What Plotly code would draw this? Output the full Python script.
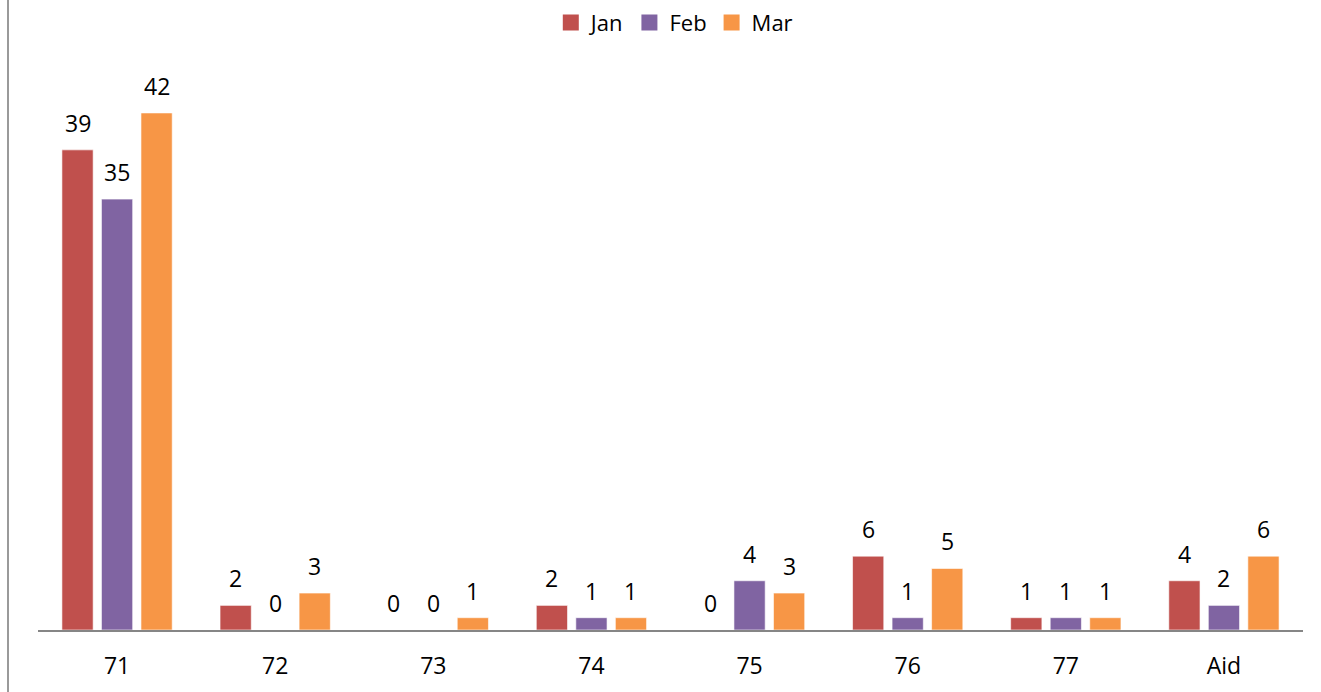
import plotly.graph_objects as go

categories = ["71", "72", "73", "74", "75", "76", "77", "Aid"]
series_names = ["Jan", "Feb", "Mar"]
jan = [39, 2, 0, 2, 0, 6, 1, 4]
feb = [35, 0, 0, 1, 4, 1, 1, 2]
mar = [42, 3, 1, 1, 3, 5, 1, 6]
colors = ["#C0504D", "#8064A2", "#F79646"]

values = [jan, feb, mar]
FONT = "Open Sans"

fig = go.Figure()
for name, vals, col in zip(series_names, values, colors):
    fig.add_trace(go.Bar(
        name=name, x=categories, y=vals, showlegend=False,
        marker=dict(color=col, line=dict(color="rgba(255,255,255,0.6)", width=1)),
    ))
# legend entries with square swatches
for name, col in zip(series_names, colors):
    fig.add_trace(go.Scatter(
        name=name, x=[None], y=[None], mode="markers",
        marker=dict(symbol="square", size=16, color=col),
    ))

# data labels (x given as category index on the category axis)
annotations = []
for k, vals in enumerate(values):
    for i, v in enumerate(vals):
        annotations.append(dict(
            x=i, y=v, xref="x", yref="y", text=str(v), showarrow=False,
            xshift=(k - 1) * 39.5, yanchor="bottom", yshift=9,
            font=dict(family=FONT, size=23, color="#000000"),
        ))

fig.update_layout(
    width=1321, height=692,
    paper_bgcolor="white", plot_bgcolor="white",
    margin=dict(l=38, r=18, t=76, b=62, autoexpand=False),
    barmode="group", bargap=0.25, bargroupgap=0.21,
    font=dict(family=FONT, size=23, color="#000000"),
    showlegend=True,
    legend=dict(orientation="h", x=0.503, xanchor="center", y=1.096, yanchor="middle",
                font=dict(family=FONT, size=22), itemwidth=30, traceorder="normal"),
    annotations=annotations,
    shapes=[dict(type="line", xref="paper", yref="paper", x0=-30/1265, x1=-30/1265,
                 y0=-62/554, y1=1 + 76/554, line=dict(color="#9a9a9a", width=2))],
)
fig.update_xaxes(type="category", categoryorder="array", categoryarray=categories,
                 range=[-0.5, len(categories) - 0.5],
                 showline=True, linecolor="#868686", linewidth=2, ticks="",
                 showgrid=False, ticklabelstandoff=14,
                 tickfont=dict(family=FONT, size=23))
fig.update_yaxes(range=[0, 45], visible=False, showgrid=False, zeroline=False)

fig.write_html("out.html", config={"displayModeBar": False},
               post_script="document.body.style.margin='0';")
